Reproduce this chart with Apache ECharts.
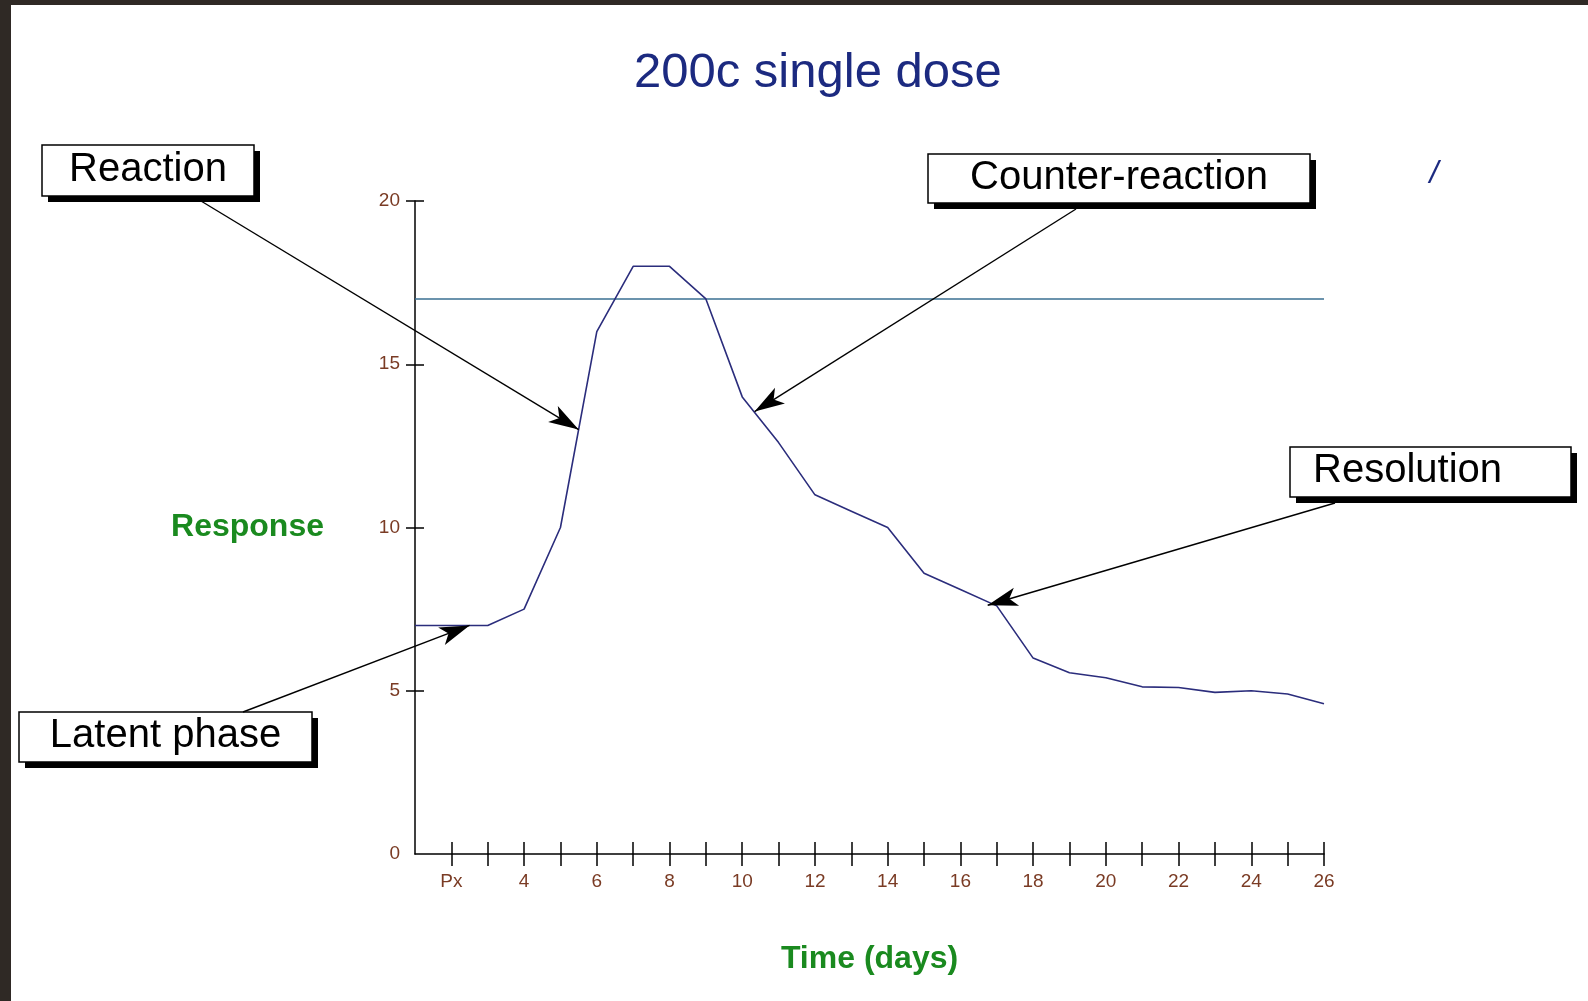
<!DOCTYPE html>
<html>
<head>
<meta charset="utf-8">
<title>200c single dose</title>
<script src="https://cdn.jsdelivr.net/npm/echarts@6/dist/echarts.min.js"></script>
<style>
  html, body { margin: 0; padding: 0; background: #2f2925; }
  #paper { position: absolute; left: 11px; top: 5px; right: 0; bottom: 0; background: #fff; }
  #main { position: absolute; left: 0; top: 0; width: 1588px; height: 1001px; }
</style>
</head>
<body>
<div id="paper"></div>
<div id="main"></div>
<script>
// days on the x axis, the tick labels and the response values
const days = [1, 2, 3, 4, 5, 6, 7, 8, 9, 10, 11, 12, 13, 14, 15, 16, 17, 18, 19, 20, 21, 22, 23, 24, 25, 26];
const response = [7, 7, 7, 7.5, 10, 16, 18, 18, 17, 14, 12.6, 11, 10.5, 10, 8.6, 8.1, 7.6, 6, 5.55, 5.4, 5.12, 5.1, 4.95, 5, 4.9, 4.6];
const tickDays = [2, 3, 4, 5, 6, 7, 8, 9, 10, 11, 12, 13, 14, 15, 16, 17, 18, 19, 20, 21, 22, 23, 24, 25, 26];
const labelDays = [2, 4, 6, 8, 10, 12, 14, 16, 18, 20, 22, 24, 26];
const xTickLabels = ['Px', '4', '6', '8', '10', '12', '14', '16', '18', '20', '22', '24', '26'];
const yTicks = [5, 10, 15, 20];
const threshold = 17;

// annotations: label text and the point on the curve each arrow points at
const notes = ['Reaction', 'Counter-reaction', 'Resolution', 'Latent phase'];
const noteTargets = [[5.5, 13], [10.34, 13.55], [16.75, 7.62], [2.5, 7]];

// where the boxes sit and where each arrow leaves its box (pixels)
const boxes = [
	{ x: 42, y: 145, w: 212, h: 51, align: 'center' },
	{ x: 928, y: 154, w: 382, h: 49, align: 'center' },
	{ x: 1290, y: 447, w: 281, h: 50, align: 'left' },
	{ x: 19, y: 712, w: 293, h: 50, align: 'center' },
];
const arrowStarts = [[201, 201], [1076, 209], [1335, 503], [243, 712]];

const chart = echarts.init(document.getElementById('main'), null, { renderer: 'canvas' });

const tickColor = '#7a3b24';
const font = '"Liberation Sans", Arial, sans-serif';

//说明框：阴影 + 白底黑框 + 文字
const boxGraphics = boxes.map((b, i) => ({
	type: 'group',
	x: b.x,
	y: b.y,
	children: [
		{ type: 'rect', shape: { x: 6, y: 6, width: b.w, height: b.h }, style: { fill: '#000' } },
		{ type: 'rect', shape: { x: 0, y: 0, width: b.w, height: b.h }, style: { fill: '#fff', stroke: '#000', lineWidth: 1.5 } },
		{
			type: 'text',
			x: b.align === 'center' ? b.w / 2 : 23,
			y: b.h / 2 - 1,
			style: {
				text: notes[i],
				font: '40px ' + font,
				fill: '#000',
				align: b.align,
				verticalAlign: 'middle',
			},
		},
	],
}));

const options = {
	animation: false,
	backgroundColor: 'transparent',
	title: {
		text: '200c single dose',
		left: 634,
		top: 49,
		padding: 0,
		textStyle: { color: '#1c2a80', fontSize: 49, fontWeight: 'normal', fontFamily: font },
	},
	grid: { left: 415, top: 201, right: 264, bottom: 147, containLabel: false },
	xAxis: [
		{
			type: 'value',
			min: 1,
			max: 26,
			interval: 1,
			name: 'Time (days)',
			nameLocation: 'middle',
			nameGap: 105,
			nameTextStyle: { color: '#1a8a1f', fontSize: 32, fontWeight: 'bold', fontFamily: font, verticalAlign: 'middle' },
			axisLine: { show: true, onZero: false, lineStyle: { color: '#000', width: 1.5 } },
			axisTick: { show: true, length: 12, customValues: tickDays, lineStyle: { color: '#000', width: 1.5 } },
			axisLabel: {
				customValues: labelDays,
				margin: 18,
				color: tickColor,
				fontSize: 19,
				fontFamily: font,
				formatter: (v) => xTickLabels[labelDays.indexOf(v)],
			},
			splitLine: { show: false },
		},
		{
			//上半截刻度，和上面的轴叠在一起
			type: 'value',
			min: 1,
			max: 26,
			interval: 1,
			position: 'bottom',
			axisLine: { show: false },
			axisTick: { show: true, inside: true, length: 12, customValues: tickDays, lineStyle: { color: '#000', width: 1.5 } },
			axisLabel: { show: false },
			splitLine: { show: false },
		},
	],
	yAxis: [
		{
			type: 'value',
			min: 0,
			max: 20,
			interval: 5,
			name: 'Response',
			nameLocation: 'middle',
			nameRotate: 0,
			nameGap: 91,
			nameTextStyle: { color: '#1a8a1f', fontSize: 32, fontWeight: 'bold', fontFamily: font, align: 'right', verticalAlign: 'middle' },
			axisLine: { show: true, onZero: false, lineStyle: { color: '#000', width: 1.5 } },
			axisTick: { show: true, length: 9, customValues: yTicks, lineStyle: { color: '#000', width: 1.5 } },
			axisLabel: { margin: 15, color: tickColor, fontSize: 19, fontFamily: font },
			splitLine: { show: false },
		},
		{
			type: 'value',
			min: 0,
			max: 20,
			interval: 5,
			position: 'left',
			axisLine: { show: false },
			axisTick: { show: true, inside: true, length: 9, customValues: yTicks, lineStyle: { color: '#000', width: 1.5 } },
			axisLabel: { show: false },
			splitLine: { show: false },
		},
	],
	series: [
		{
			name: 'threshold',
			type: 'line',
			data: [[days[0], threshold], [days[days.length - 1], threshold]],
			symbol: 'none',
			silent: true,
			lineStyle: { color: '#3a6f92', width: 1.5 },
		},
		{
			name: 'Response',
			type: 'line',
			data: days.map((d, i) => [d, response[i]]),
			symbol: 'none',
			lineStyle: { color: '#2b2d7c', width: 1.6 },
			markLine: {
				silent: true,
				symbol: ['none', 'arrow'],
				symbolSize: [14, 30],
				label: { show: false },
				lineStyle: { color: '#000', width: 1.4, type: 'solid' },
				data: noteTargets.map((t, i) => [
					{ x: arrowStarts[i][0], y: arrowStarts[i][1] },
					{ coord: t },
				]),
			},
		},
	],
	graphic: [
		...boxGraphics,
		{
			type: 'text',
			x: 1434,
			y: 174,
			style: { text: '/', font: 'italic 32px ' + font, fill: '#1c2a80', align: 'center', verticalAlign: 'middle' },
		},
	],
};

chart.setOption(options);
</script>
</body>
</html>
